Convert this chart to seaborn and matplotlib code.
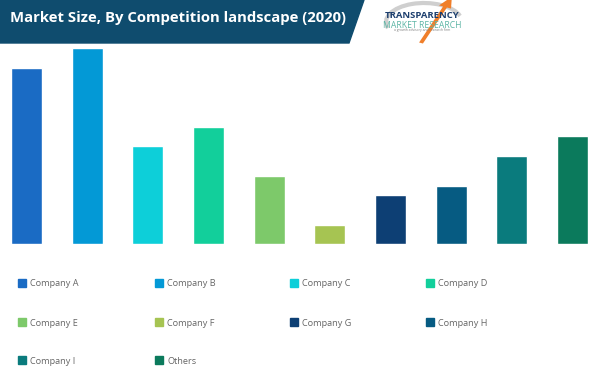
import matplotlib
matplotlib.use("Agg")
import matplotlib.pyplot as plt
import matplotlib.patches as mpatches
import seaborn as sns
import pandas as pd

# chart data (arbitrary units)
companies = ["Company A", "Company B", "Company C", "Company D", "Company E",
             "Company F", "Company G", "Company H", "Company I", "Others"]
market_size = [8.8, 9.8, 4.9, 5.85, 3.4, 0.95, 2.45, 2.9, 4.4, 5.4]
colors = ["#1a6bc4", "#0399d6", "#0dcfd9", "#12cf9b", "#7dc96a",
          "#a6c452", "#0d3f74", "#065b82", "#0a7b7d", "#0b7a5c"]
title = "Market Size, By Competition landscape (2020)"

df = pd.DataFrame({"company": companies, "size": market_size})

W, H = 593, 373
sns.set_theme(style="white")
plt.rcParams["font.family"] = ["Open Sans", "DejaVu Sans"]

fig = plt.figure(figsize=(W / 100, H / 100), dpi=100)

def fx(px):
    return px / W

def fy(py):
    return 1 - py / H

# bar area
ax = fig.add_axes([0, fy(244), 1, (244 - 40) / H])
sns.barplot(data=df, x="company", y="size", hue="company", palette=colors,
            width=0.51, saturation=1, legend=False, ax=ax)
ax.set_xlim(-0.437, 9.337)
ax.set_ylim(0, 10.2)
ax.axis("off")

# title banner
banner = mpatches.Polygon([(fx(0), fy(0)), (fx(364), fy(0)), (fx(349), fy(43)), (fx(0), fy(43))],
                          closed=True, transform=fig.transFigure, color="#0f4c6e", zorder=5)
fig.patches.append(banner)
fig.text(fx(10), fy(18), title, color="white", fontsize=10.7, fontweight="bold",
         va="center", ha="left", zorder=6)

# logo
swoosh = mpatches.Arc((fx(424), fy(22)), fx(76), 38 / H, theta1=15, theta2=195,
                      transform=fig.transFigure, color="#cfcfcf", lw=3)
fig.patches.append(swoosh)
arrow = mpatches.FancyArrow(fx(421), fy(43), fx(24), 36 / H, width=0.007,
                            head_width=0.022, head_length=0.03,
                            transform=fig.transFigure, color="#f07f2a", lw=0)
fig.patches.append(arrow)
fig.text(fx(422), fy(16), "TRANSPARENCY", color="#1d3f6e", fontsize=6.8,
         fontweight="bold", ha="center", va="center")
fig.text(fx(422), fy(25), "MARKET RESEARCH", color="#5db5a5", fontsize=6.2,
         ha="center", va="center")
fig.text(fx(422), fy(30.5), "a growth advisory and research firm", color="#7f7f7f",
         fontsize=2.4, ha="center", va="center")

# legend
col_x = [18, 155, 290, 426]
row_y = [283, 322, 360]
for i, (name, c) in enumerate(zip(companies, colors)):
    x0 = col_x[i % 4]
    y0 = row_y[i // 4]
    sq = mpatches.Rectangle((fx(x0), fy(y0 + 4)), fx(8), 8 / H,
                            transform=fig.transFigure, color=c)
    fig.patches.append(sq)
    fig.text(fx(x0 + 12), fy(y0 + 1), name, color="#666666", fontsize=6.6,
             ha="left", va="center")

fig.savefig("out.png", dpi=100)
